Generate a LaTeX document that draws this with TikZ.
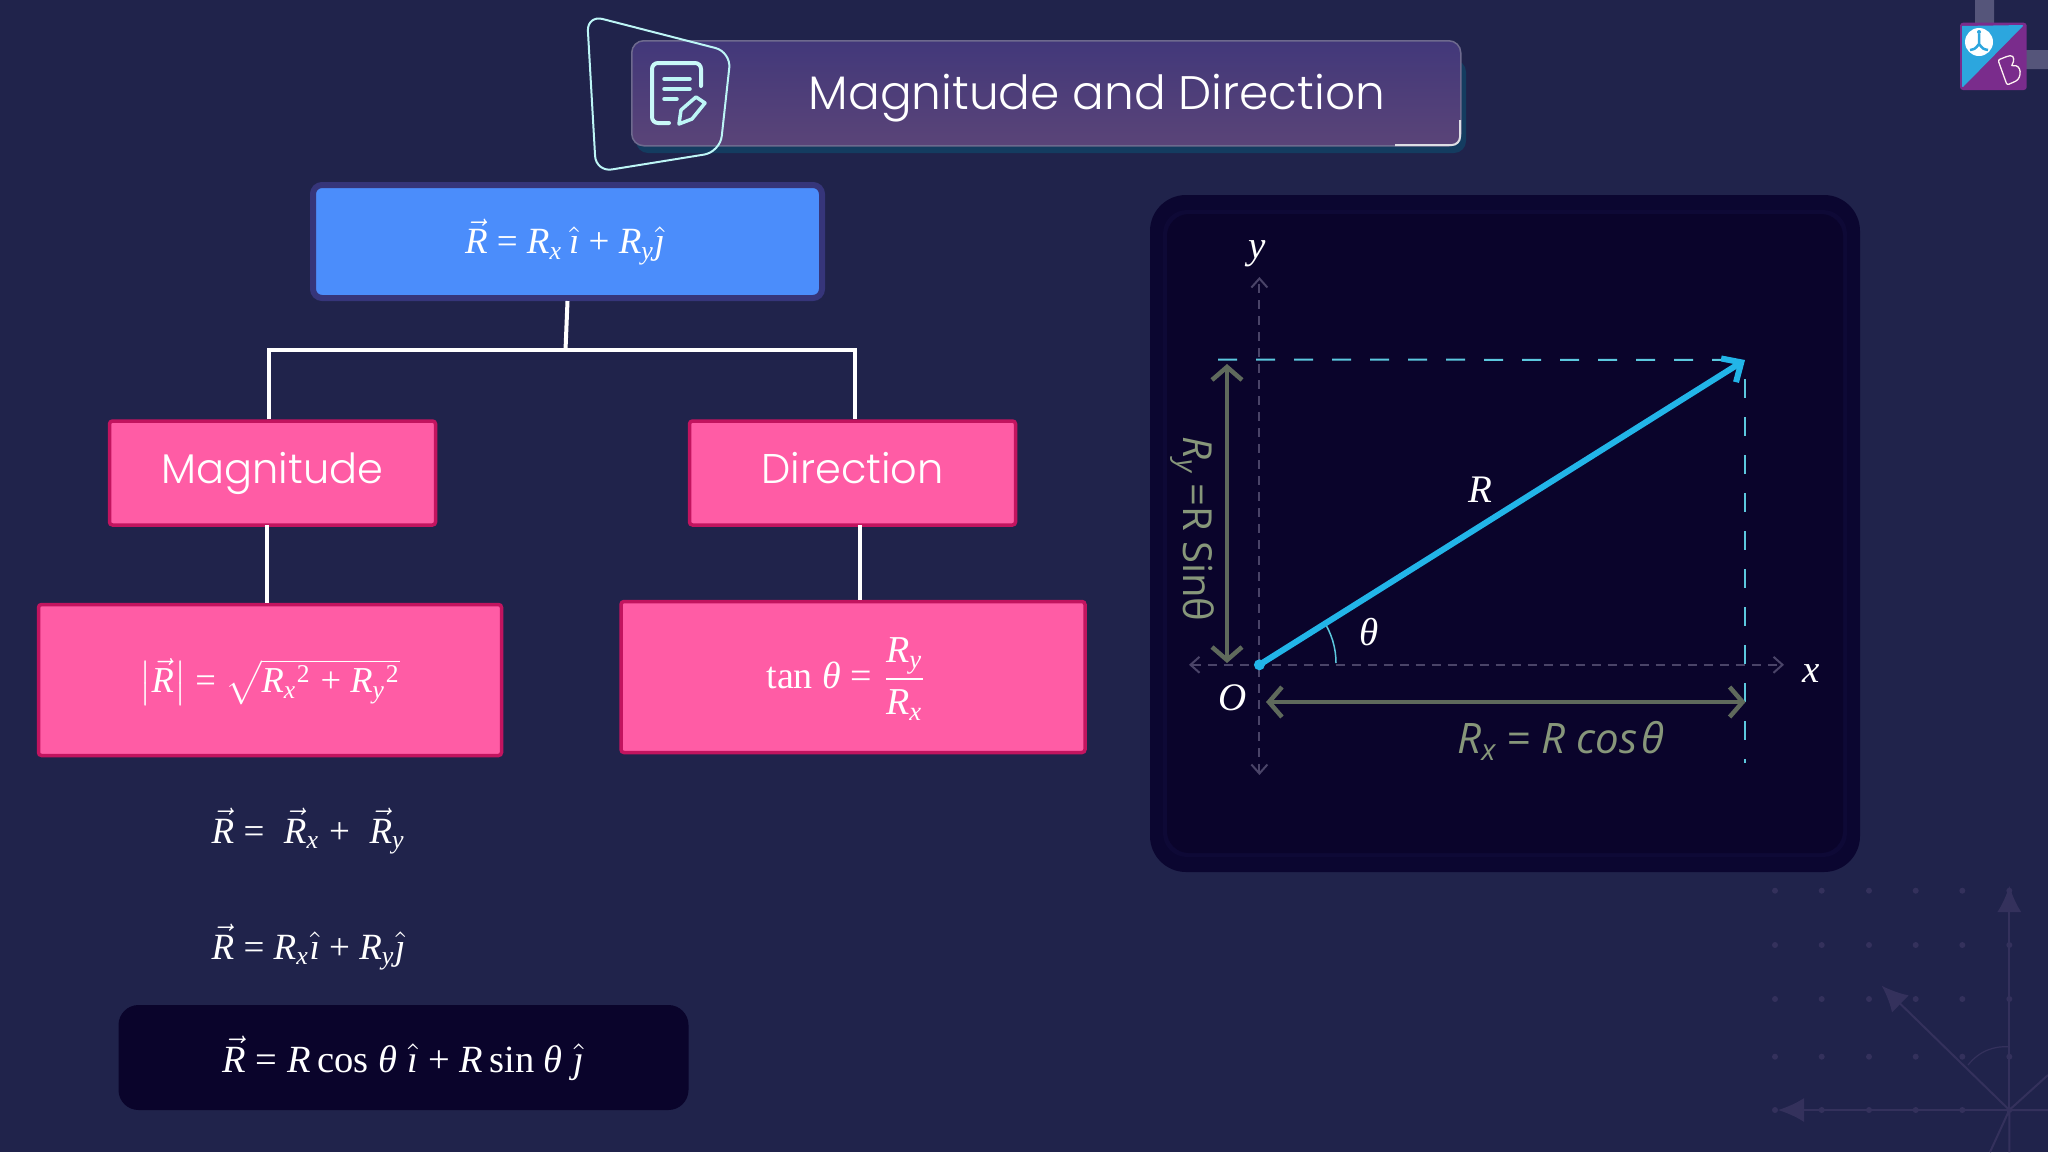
\documentclass[tikz,border=0pt]{standalone}
\usepackage{amsmath}
\usepackage{fontspec}
\usetikzlibrary{arrows.meta,calc}
\newfontfamily\pop[UprightFont=* Light]{Poppins}
\newfontfamily\opn{Open Sans}
\newfontfamily\lsr{Liberation Serif}
\newcommand{\V}[1]{\text{\lsr\itshape #1}}
\newcommand{\U}[1]{\text{\lsr #1}}
\newcommand{\Ra}{\vec{\V{R}}}
\newcommand{\Rx}{\V{R}_{\V{x}}}
\newcommand{\Ry}{\V{R}_{\V{y}}}
\newcommand{\Rr}{\V{R}}
\newcommand{\ih}{\hat{\V{ı}}}
\newcommand{\jh}{\hat{\V{ȷ}}}
\newcommand{\thet}{\V{θ}}
\definecolor{bgc}{HTML}{20234B}
\definecolor{panelo}{HTML}{0B0630}
\definecolor{paneli}{HTML}{0A042B}
\definecolor{panelb}{HTML}{0E0936}
\definecolor{blueb}{HTML}{4B8DFB}
\definecolor{blueo}{HTML}{36357A}
\definecolor{pinkf}{HTML}{FF5CA5}
\definecolor{pinko}{HTML}{C2145F}
\definecolor{cyanl}{HTML}{22B5E8}
\definecolor{cyand}{HTML}{5CC8DE}
\definecolor{axisc}{HTML}{4A4468}
\definecolor{greenl}{HTML}{5F6A5C}
\definecolor{greent}{HTML}{87977A}
\definecolor{framec}{HTML}{BDF6F6}
\definecolor{deco}{HTML}{34315C}
\definecolor{logob}{HTML}{2CA6DE}
\definecolor{logop}{HTML}{7A2C8C}
\definecolor{bart}{HTML}{42387A}
\definecolor{barb}{HTML}{5A4478}
\definecolor{barl}{HTML}{6E6A8E}
\definecolor{glow}{HTML}{143C60}
\definecolor{lgray}{HTML}{55557A}
\tikzset{
 x=1pt,y=-1pt,
 pinkbox/.style={draw=pinko,fill=pinkf,line width=3.5pt,rounded corners=3pt,inner sep=0pt},
 conn/.style={draw=white,line width=4pt},
 eq/.style={text=white,inner sep=0pt},
 lab/.style={text=white,inner sep=0pt,scale=3.9},
 ax/.style={draw=axisc,line width=2pt,dash pattern=on 9pt off 7pt,{Straight Barb[length=9pt,width=16pt]}-{Straight Barb[length=9pt,width=16pt]}},
 dimarrow/.style={draw=greenl,line width=4.5pt,{Straight Barb[length=13pt,width=30pt]}-{Straight Barb[length=13pt,width=30pt]}},
 cyd/.style={draw=cyand,line width=2pt,dash pattern=on 19pt off 19pt},
 decoline/.style={draw=deco,line width=2pt},
}
\begin{document}
\begin{tikzpicture}
\useasboundingbox (0,0) rectangle (2048,1152);
\fill[bgc] (0,0) rectangle (2048,1152);
% decoration lower right
\foreach \px in {1775,1821.7,1869,1915.7,1962.3,2009.3}
 \foreach \py in {890.7,945,999,1056.7,1110}
  \fill[deco] (\px,\py) circle (3pt);
\coordinate (do) at (2009.3,1110);
\coordinate (dup) at (2009.3,886);
\coordinate (dleft) at (1778,1110);
\coordinate (ddiag) at (1881.7,985.7);
\draw[decoline,-{Latex[length=26pt,width=24pt]}] (do)--(dup);
\draw[decoline,-{Latex[length=26pt,width=24pt]}] (do)--(dleft);
\draw[decoline,-{Latex[length=26pt,width=24pt]}] (do)--(ddiag);
\draw[decoline] (do)--(2048,1110) (do)--(2009.3,1152) (do)--(2048,1075) (do)--(1990,1152);
\draw[deco,line width=1.2pt] (1968,1065) .. controls (1980,1050) and (1995,1046) .. (2009,1046.7);
% logo
\fill[lgray] (1975,0) rectangle (1994,30) (2020,50) rectangle (2048,69);
\fill[logop,rounded corners=3pt] (1960,22.7) rectangle (2026.7,90);
\fill[logob] (1962,88) -- (1962,26) [rounded corners=2pt] -- (2024,25) -- cycle;
\fill[white] (1979,42) circle (14pt);
\draw[logob,line width=2.5pt] (1979,34)--(1979,44) (1970,50) .. controls (1975,49) .. (1979,44) .. controls (1983,49) .. (1988,50);
\fill[logob] (1979,32) circle (2pt);
\draw[white!80!pink,line width=1.3pt,rounded corners=2pt] (1998,60) -- (2008,56) .. controls (2015,55) and (2014,62) .. (2011,66) .. controls (2022,64) and (2022,78) .. (2014,82) -- (2007,85) -- cycle;
% title bar
\fill[glow,rounded corners=12pt] (636,60) rectangle (1466,153);
\node[draw=barl,line width=1.5pt,rounded corners=12pt,minimum width=829pt,minimum height=105pt,inner sep=0pt,top color=bart,bottom color=barb,anchor=north west] (bar) at (631,40) {};
\draw[white!85!bgc,line width=2pt,rounded corners=8pt] (1395,145) -- (1460,145) -- (1460,120);
\node[text=white,inner sep=0pt,anchor=center] (title) at (1097,98) {\pop\fontsize{47}{47}\selectfont Magnitude and Direction\vphantom{g}};
% icon frame
\draw[framec,line width=2pt,rounded corners=16pt] (587,15) -- (731,52) -- (720,152) -- (596,172) -- cycle;
% icon glyph
\draw[framec!80!white,line width=4pt,line cap=round,rounded corners=6pt] (701,86) -- (701,63) -- (652,63) -- (652,123) -- (669,123);
\draw[framec,line width=3.5pt,line cap=round] (664,79) -- (690,79) (664,89) -- (690,89) (664,99) -- (677,99);
\draw[framec,line width=3.5pt,line join=round] (679,124) -- (681,110) -- (696,97) -- (705,103) -- (692,119) -- cycle;
% top box
\node[draw=blueo,fill=blueb,line width=6pt,rounded corners=9pt,minimum width=509pt,minimum height=113pt,inner sep=0pt] (top) at (567.5,241.5) {};
\node[eq,scale=3.7,anchor=center] (topeq) at (565,242) {$\Ra\U{ = }\Rx\,\ih\U{ + }\Ry\jh$};
% magnitude and direction
\node[pinkbox,minimum width=326pt,minimum height=104pt] (mag) at (272.5,473) {\pop\fontsize{41.5}{41.5}\selectfont\color{white}Magnitude\vphantom{g}};
\node[pinkbox,minimum width=326pt,minimum height=104pt] (dir) at (852.5,473) {\pop\fontsize{41.5}{41.5}\selectfont\color{white}Direction\vphantom{g}};
\node[pinkbox,minimum width=463pt,minimum height=151pt] (magf) at (270,680) {};
\node[pinkbox,minimum width=464pt,minimum height=151pt] (dirf) at (853,677) {};
\node[eq,scale=3.65,anchor=center] (magfeq) at (270,682) {$\bigl|\Ra\bigr|\U{ = }\sqrt{\Rx{}^{\U{2}}\U{ + }\Ry{}^{\U{2}}}$};
\node[eq,scale=3.8,anchor=center] (dirfeq) at (847,679) {$\U{tan }\thet\U{ = }\dfrac{\Ry}{\Rx}$};
% connectors
\coordinate (bus) at (565.5,350);
\coordinate (busl) at (268.6,350);
\coordinate (busr) at (855,350);
\draw[conn] (top.south) -- (bus);
\draw[conn,line join=miter] (mag.north -| busl) -- (busl) -- (busr) -- (dir.north -| busr);
\coordinate (mc) at (266.5,525);
\coordinate (dc) at (859.5,525);
\draw[conn] (mc) -- (magf.north -| mc);
\draw[conn] (dc) -- (dirf.north -| dc);
% left equations
\node[eq,scale=3.7,anchor=base west] (e1) at (211,843) {$\Ra\U{ = }\;\Ra_{\V{x}}\U{ + }\;\Ra_{\V{y}}$};
\node[eq,scale=3.7,anchor=base west] (e2) at (211,959) {$\Ra\U{ = }\Rx\ih\U{ + }\Ry\jh$};
\node[fill=paneli,rounded corners=20pt,minimum width=570pt,minimum height=105pt,inner sep=0pt] (dark) at (403.5,1057.5) {};
\node[eq,scale=3.85,anchor=base] (e3) at (403.5,1072) {$\Ra\U{ = }\Rr\,\U{cos }\thet\;\ih\U{ + }\Rr\,\U{sin }\thet\;\jh$};
% panel
\fill[panelo,rounded corners=36pt] (1150,195) rectangle (1860,872);
\fill[panelb,rounded corners=24pt] (1163,210) rectangle (1847,857);
\fill[paneli,rounded corners=22pt] (1167,214) rectangle (1843,853);
\coordinate (O) at (1259.4,664.8);
\coordinate (yt) at (1259.4,277);
\coordinate (yb) at (1259.4,775);
\coordinate (xl) at (1189,664.8);
\coordinate (xr) at (1784,664.8);
\coordinate (P) at (1745,360);
\draw[ax] (yb) -- (yt);
\draw[ax] (xl) -- (xr);
\coordinate (dl) at (1218,359.5);
\coordinate (db) at (1745,763);
\draw[cyd] (dl) -- (P);
\draw[cyd,dash phase=19pt] (P) -- (db);
\draw[draw=cyand,line width=1.5pt] (1336,663) arc[start angle=0,end angle=33,radius=77pt];
\coordinate (ryt) at (1227,364);
\coordinate (ryb) at (1227,663);
\coordinate (rxl) at (1266,702);
\coordinate (rxr) at (1745.6,702);
\draw[dimarrow] (ryt) -- (ryb);
\draw[dimarrow] (rxl) -- (rxr);
\draw[draw=cyanl,line width=6pt,-{Straight Barb[length=15pt,width=28pt]}] (O) -- (P);
\fill[cyanl] (O) circle (5.5pt);
\node[lab] (ly) at (1257,254) {$\V{y}$};
\node[lab] (lx) at (1811,674) {$\V{x}$};
\node[lab] (lo) at (1233,698) {$\V{O}$};
\node[lab] (lr) at (1480,490) {$\V{R}$};
\node[lab] (lt) at (1369,632) {$\V{θ}$};
\node[text=greent,inner sep=0pt] (lrx) at (1561,741) {\opn\fontsize{42}{42}\selectfont\itshape R$_{\text{\opn\itshape x}}$ = R cos$\,$θ};
\node[text=greent,inner sep=0pt,rotate=-90] (lry) at (1192,529) {\opn\fontsize{40}{40}\selectfont\itshape R$_{\text{\opn\itshape y}}$\upshape\ =R Sinθ};
\end{tikzpicture}
\end{document}
